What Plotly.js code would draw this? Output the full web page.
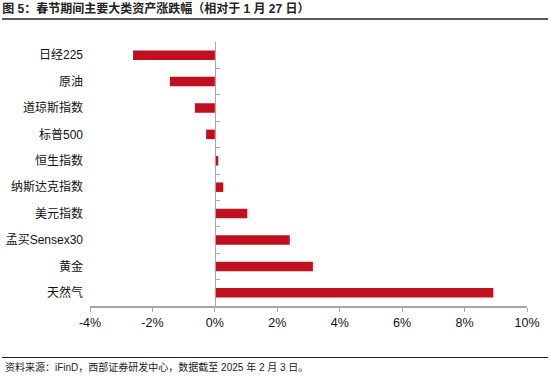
<!DOCTYPE html>
<html>
<head>
<meta charset="utf-8">
<script src="https://cdn.plot.ly/plotly-3.0.1.min.js"></script>
<style>html,body{margin:0;padding:0;background:#fff;}#chart{width:550px;height:376px;}</style>
</head>
<body>
<div id="chart"></div>
<script>
const categories = ["日经225", "原油", "道琼斯指数", "标普500", "恒生指数", "纳斯达克指数", "美元指数", "孟买Sensex30", "黄金", "天然气"];
const changes = [-2.62, -1.44, -0.64, -0.28, 0.11, 0.27, 1.04, 2.40, 3.14, 8.92];
const xTickVals = [-4, -2, 0, 2, 4, 6, 8, 10];
const xTickText = ["-4%", "-2%", "0%", "2%", "4%", "6%", "8%", "10%"];

const FONT = "Liberation Sans, Arial, 'Noto Sans CJK SC', sans-serif";
const xMin = -4, xMax = 10;
const zeroPos = (0 - xMin) / (xMax - xMin);

const traces = [
  {
    type: "bar", orientation: "h",
    x: changes, y: categories,
    marker: {color: "#C00F1E"},
    hoverinfo: "x+y",
    xaxis: "x", yaxis: "y"
  },
  {
    type: "scatter", mode: "markers",
    x: changes, y: categories,
    marker: {opacity: 0},
    hoverinfo: "skip", showlegend: false,
    xaxis: "x", yaxis: "y2"
  }
];

const layout = {
  width: 550, height: 376,
  margin: {l: 90, r: 23, t: 42, b: 70},
  paper_bgcolor: "#fff", plot_bgcolor: "#fff",
  showlegend: false,
  bargap: 0.64,
  font: {family: FONT, size: 12, color: "#111"},
  title: {
    text: "<b>图 5：春节期间主要大类资产涨跌幅（相对于 1 月 27 日）</b>",
    font: {family: FONT, size: 12, color: "#222"},
    x: 0.004, xanchor: "left", xref: "container",
    y: 1 - 9 / 376, yanchor: "middle", yref: "container"
  },
  xaxis: {
    range: [xMin, xMax],
    tickvals: xTickVals, ticktext: xTickText,
    showgrid: false, zeroline: false,
    showline: true, linecolor: "#a6a6a6", linewidth: 1.5,
    ticks: "outside", ticklen: 4, tickcolor: "#a6a6a6", tickwidth: 1,
    tickfont: {family: FONT, size: 12.5, color: "#111"}
  },
  yaxis: {
    type: "category",
    categoryorder: "array", categoryarray: categories,
    range: [9.5, -0.5],
    showgrid: false, zeroline: false, showline: false,
    ticks: "", ticklabelstandoff: 6,
    tickfont: {family: FONT, size: 12, color: "#111"}
  },
  yaxis2: {
    type: "category",
    categoryorder: "array", categoryarray: categories,
    range: [9.5, -0.5],
    overlaying: "y", anchor: "free", position: zeroPos, side: "left",
    showgrid: false, zeroline: false,
    showline: true, linecolor: "#a6a6a6", linewidth: 1.5,
    ticks: "inside", tickson: "boundaries", ticklen: 4, tickcolor: "#a6a6a6",
    showticklabels: false
  },
  shapes: [
    {type: "line", xref: "paper", yref: "paper",
     x0: (2 - 90) / 437, x1: (548 - 90) / 437,
     y0: (306 - 19) / 264, y1: (306 - 19) / 264,
     line: {color: "#222", width: 1.6}},
    {type: "line", xref: "paper", yref: "paper",
     x0: (2 - 90) / 437, x1: (548 - 90) / 437,
     y0: (306 - 357.5) / 264, y1: (306 - 357.5) / 264,
     line: {color: "#222", width: 1.2}}
  ],
  annotations: [
    {xref: "paper", yref: "paper",
     x: (3 - 90) / 437, y: (306 - 367) / 264,
     xanchor: "left", yanchor: "middle", showarrow: false,
     text: "资料来源：iFinD，西部证券研发中心，数据截至 2025 年 2 月 3 日。",
     font: {family: FONT, size: 10, color: "#222"}}
  ]
};

Plotly.newPlot("chart", traces, layout, {displayModeBar: false, staticPlot: true});
</script>
</body>
</html>
